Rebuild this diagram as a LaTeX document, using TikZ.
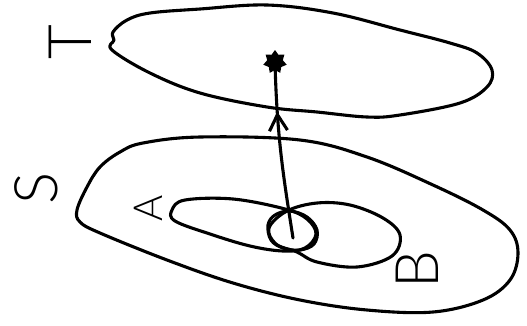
\documentclass[tikz,border=0pt]{standalone}
\usepackage{fontspec}
\newfontfamily\handfont{Lato}[UprightFont={* Light}]
\usetikzlibrary{arrows.meta,decorations.markings,shapes.geometric}

\begin{document}
\begin{tikzpicture}[
  x=1pt,y=-1pt,
  line width=3.1pt,line join=round,line cap=round,
  region/.style={draw,smooth cycle,tension=0.6},
  letter/.style={rotate=90,inner sep=0pt,font=\handfont\fontsize{60}{60}\selectfont},
  midarrow/.style={postaction={decorate},decoration={markings,
    mark=at position 0.72 with {\arrow{Straight Barb[length=16pt,width=18pt,line width=3.1pt]}}}}
]
  \useasboundingbox (0,0) rectangle (527,325);

  % the two sets
  \draw plot[region] coordinates {(113,32) (127,20) (150,13) (200,9) (267,5) (333,13)
    (400,30) (450,43) (477,53) (492,70) (487,87) (460,103) (400,115) (367,117)
    (317,112) (267,107) (200,93) (150,73) (112,50) (114,40)};
  \draw plot[region] coordinates {(77,210) (87,187) (100,167) (120,152) (143,143)
    (200,137) (300,140) (367,157) (433,185) (483,210) (510,230) (518,253) (510,280)
    (483,300) (433,312) (367,310) (300,300) (233,283) (167,260) (100,233) (80,222)};

  % subsets A and B with the small disc where they meet
  \draw plot[region] coordinates {(172,210) (185,200) (233,199) (285,209) (307,219)
    (316,234) (305,248) (283,251) (250,246) (210,234) (175,221)};
  \draw plot[region] coordinates {(287,211) (317,203) (350,205) (383,218) (400,235)
    (392,256) (357,267) (317,262) (297,252) (276,244) (269,228)};
  \draw plot[region] coordinates {(268,225) (275,215) (290,211) (307,217) (317,230)
    (314,244) (300,250) (283,248) (271,240)};

  \node[letter] (labT) at (70,42) {T};
  \node[letter] (labS) at (36,188) {S};
  \node[letter,font=\handfont\fontsize{40}{40}\selectfont] (labA) at (148,208) {A};
  \node[letter] (labB) at (417,270) {B};

  \coordinate (src) at (293,238);
  \node[star,star points=7,star point ratio=1.5,fill,inner sep=0pt,minimum size=24pt] (dst) at (275,62) {};

  \draw[midarrow] (src) .. controls (284,180) and (277,140) .. (dst.center);
\end{tikzpicture}
\end{document}
